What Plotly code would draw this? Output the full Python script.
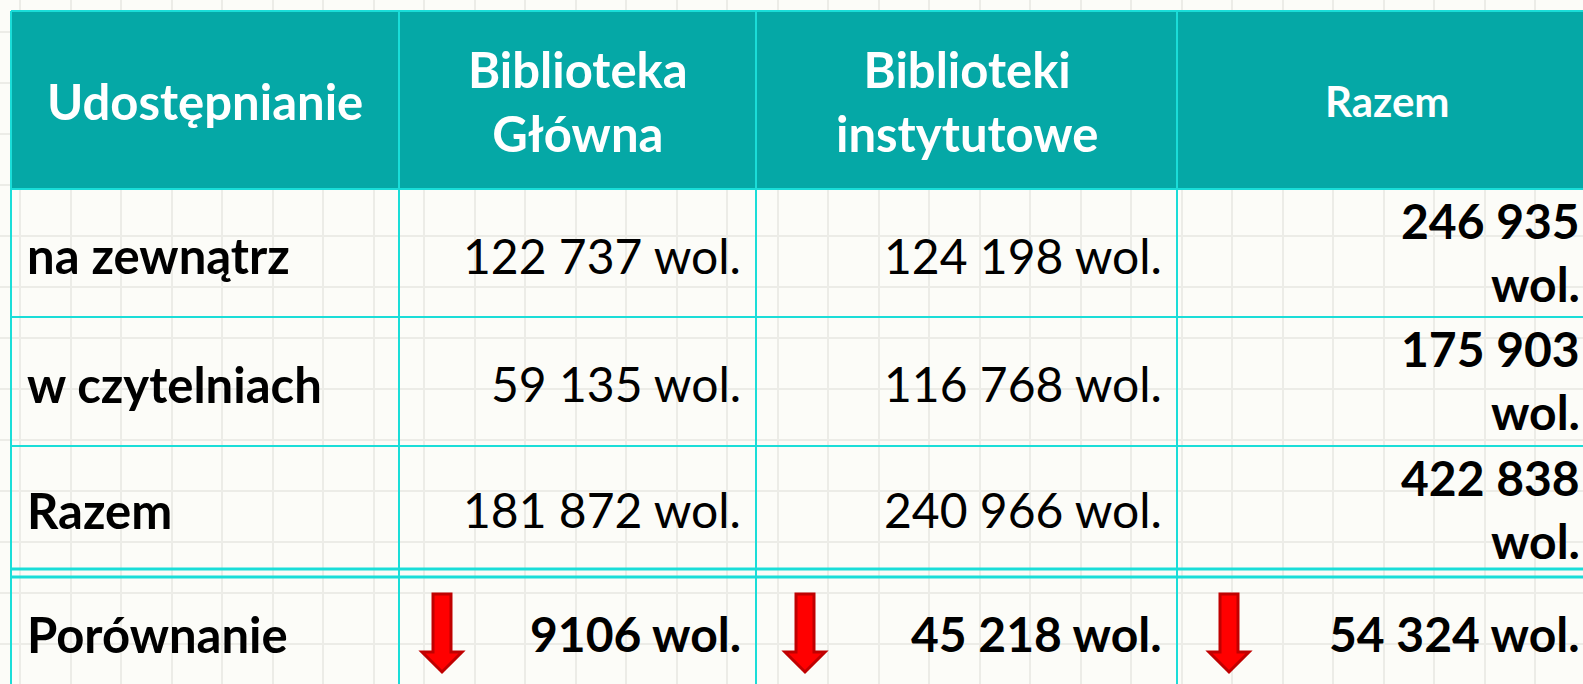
import plotly.graph_objects as go

# ---------------- data ----------------
headers = ["Udostępnianie", "Biblioteka<br>Główna", "Biblioteki<br>instytutowe", "Razem"]
row_labels = ["na zewnątrz", "w czytelniach", "Razem", "Porównanie"]
glowna = [122737, 59135, 181872]
instytutowe = [124198, 116768, 240966]
razem = [246935, 175903, 422838]
porownanie = [9106, 45218, 54324]
porownanie_dir = ["down", "down", "down"]
unit = "wol."

# ---------------- layout constants ----------------
W, H = 1583, 684
col_edges = [11, 399, 756, 1177, 1620]
row_edges = [11, 189, 317, 446, 569]
last_row_top = 577
last_row_bottom = 720
pad_right = 13
text_right = [None, col_edges[2] - pad_right, col_edges[3] - pad_right, 1582]
arrow_offsets = [43, 49, 52]

HEADER_BG = "#05A8A6"
BORDER = "#1ADDD8"
BG = "#FCFCF8"
GRID = "#ECECE7"
FONT = "Lato"


def fmt(n):
    s = str(n)
    if n < 10000:
        return s
    parts = []
    while s:
        parts.insert(0, s[-3:])
        s = s[:-3]
    return " ".join(parts)


fig = go.Figure()
shapes = []
ann = []

# header background
shapes.append(dict(type="rect", xref="x", yref="y", x0=col_edges[0], x1=col_edges[-1],
                   y0=row_edges[0], y1=row_edges[1], fillcolor=HEADER_BG, line=dict(width=0),
                   layer="above"))

# horizontal borders
for y in row_edges[:-1]:
    shapes.append(dict(type="line", xref="x", yref="y", x0=col_edges[0], x1=col_edges[-1],
                       y0=y, y1=y, line=dict(color=BORDER, width=2), layer="above"))
for y in [row_edges[-1], last_row_top]:
    shapes.append(dict(type="line", xref="x", yref="y", x0=col_edges[0], x1=col_edges[-1],
                       y0=y, y1=y, line=dict(color=BORDER, width=3), layer="above"))
# vertical borders
for x in col_edges:
    shapes.append(dict(type="line", xref="x", yref="y", x0=x, x1=x,
                       y0=row_edges[0], y1=last_row_bottom, line=dict(color=BORDER, width=2),
                       layer="above"))

# header text
for i, h in enumerate(headers):
    cx = (col_edges[i] + col_edges[i + 1]) / 2
    if i == 3:
        cx = (col_edges[i] + 1597) / 2
    ann.append(dict(x=cx, y=(row_edges[0] + row_edges[1]) / 2 + 1, xref="x", yref="y",
                    text="<b>%s</b>" % h, showarrow=False, xanchor="center", yanchor="middle",
                    font=dict(family=FONT, size=42 if i == 3 else 49, color="white")))

# body rows
row_tops = [row_edges[i + 1] for i in range(3)]
row_centers = [(row_edges[i + 1] + row_edges[i + 2]) / 2 + 2 for i in range(3)]
row_centers.append((last_row_top + 690) / 2)
label_x = 25
for r, lab in enumerate(row_labels):
    ann.append(dict(x=label_x, y=row_centers[r], xref="x", yref="y", text="<b>%s</b>" % lab,
                    showarrow=False, xanchor="left", yanchor="middle",
                    font=dict(family=FONT, size=49, color="black")))

cols = [glowna, instytutowe]
for c, vals in enumerate(cols):
    for r, v in enumerate(vals):
        ann.append(dict(x=text_right[c + 1], y=row_centers[r], xref="x", yref="y",
                        text="%s %s" % (fmt(v), unit), showarrow=False, xanchor="right",
                        yanchor="middle", font=dict(family=FONT, size=48, color="black")))
# total column: number wraps onto two lines (overflowing the cell)
for r, v in enumerate(razem):
    ann.append(dict(x=text_right[3], y=row_tops[r] + 31, xref="x", yref="y",
                    text="<b>%s</b>" % fmt(v), showarrow=False, xanchor="right",
                    yanchor="middle", font=dict(family=FONT, size=48, color="black")))
    ann.append(dict(x=text_right[3], y=row_tops[r] + 94, xref="x", yref="y",
                    text="<b>%s</b>" % unit, showarrow=False, xanchor="right",
                    yanchor="middle", font=dict(family=FONT, size=48, color="black")))

# comparison row
for c, v in enumerate(porownanie):
    ann.append(dict(x=text_right[c + 1], y=row_centers[3], xref="x", yref="y",
                    text="<b>%s %s</b>" % (fmt(v), unit), showarrow=False, xanchor="right",
                    yanchor="middle", font=dict(family=FONT, size=48, color="black")))
    if porownanie_dir[c] == "down":
        cx = col_edges[c + 1] + arrow_offsets[c]
        top, neck, tip = 594, 652, 672
        sw, hw = 9, 20
        path = ("M {a},{t} L {b},{t} L {b},{n} L {c},{n} L {x},{p} L {d},{n} L {a2},{n} Z"
                .format(a=cx - sw, b=cx + sw, t=top, n=neck, c=cx + hw, x=cx, p=tip,
                        d=cx - hw, a2=cx - sw))
        shapes.append(dict(type="path", xref="x", yref="y", path=path, fillcolor="#FF0000",
                           line=dict(color="#C00000", width=3), layer="above"))

fig.update_layout(
    width=W, height=H, margin=dict(l=0, r=0, t=0, b=0),
    paper_bgcolor=BG, plot_bgcolor=BG, showlegend=False,
    shapes=shapes, annotations=ann,
    xaxis=dict(range=[0, W], showticklabels=False, zeroline=False, showgrid=True,
               gridcolor=GRID, gridwidth=1.5, tick0=20, dtick=50.5, fixedrange=True),
    yaxis=dict(range=[H, 0], showticklabels=False, zeroline=False, showgrid=True,
               gridcolor=GRID, gridwidth=1.5, tick0=32, dtick=51, fixedrange=True),
)

fig.write_html("out.html", post_script="document.body.style.margin='0';",
               config={"displayModeBar": False})
